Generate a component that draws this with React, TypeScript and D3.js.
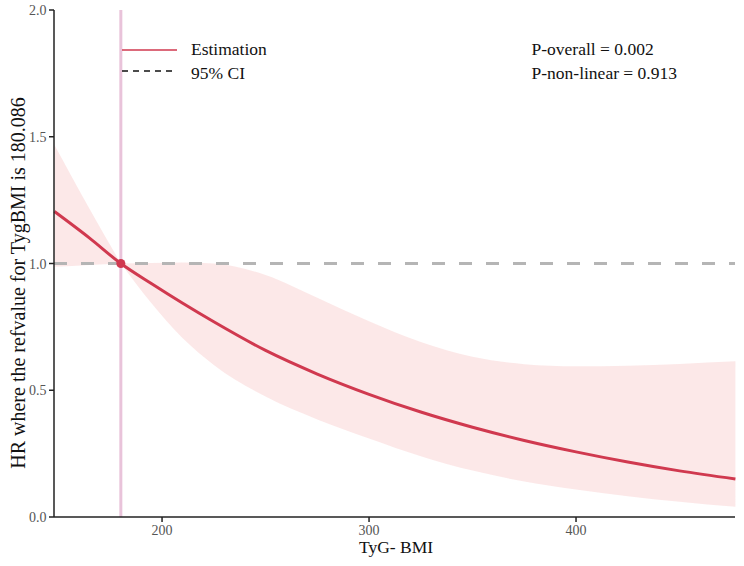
import React from "react";
import * as d3 from "d3";

const xs = [148, 165, 180.086, 195, 210, 225, 250, 275, 300, 325, 350, 375, 400, 425, 450, 477];
const estimate = [1.205, 1.1, 1.0, 0.92, 0.843, 0.77, 0.657, 0.564, 0.484, 0.414, 0.354, 0.302, 0.257, 0.217, 0.182, 0.15];
const lower = [0.987, 0.994, 1.0, 0.842, 0.705, 0.6, 0.475, 0.385, 0.31, 0.24, 0.183, 0.14, 0.108, 0.082, 0.06, 0.04];
const upper = [1.467, 1.215, 1.0, 1.002, 1.004, 1.0, 0.955, 0.865, 0.772, 0.69, 0.632, 0.603, 0.595, 0.597, 0.604, 0.614];
const xTicks = [200, 300, 400];
const yTicks = [0, 0.5, 1.0, 1.5, 2.0];
const refValue = 180.086;
const pTexts = ["P-overall = 0.002", "P-non-linear = 0.913"];
const legendItems = ["Estimation", "95% CI"];

const W = 744, H = 566;
const left = 54, right = 735, top = 10, bottom = 517;
const FONT = "'Liberation Serif', 'Times New Roman', serif";

export default function App() {
  const x = d3.scaleLinear().domain([147.8, 476.8]).range([left, right]);
  const y = d3.scaleLinear().domain([0, 2]).range([bottom, top]);
  const rows = xs.map((v, i) => ({ x: v, e: estimate[i], lo: lower[i], hi: upper[i] }));
  const refIdx = xs.indexOf(refValue);
  const area = d3.area<any>().x(d => x(d.x)).y0(d => y(d.lo)).y1(d => y(d.hi)).curve(d3.curveMonotoneX);
  const line = d3.line<any>().x(d => x(d.x)).y(d => y(d.e)).curve(d3.curveMonotoneX);
  const leftRows = rows.slice(0, refIdx + 1);
  const rightRows = rows.slice(refIdx);

  return (
    <svg width={W} height={H} style={{ position: "absolute", left: 0, top: 0, background: "#fff" }}>
      <path d={area(leftRows) || ""} fill="#fbe4e4" fillOpacity={0.85} />
      <path d={area(rightRows) || ""} fill="#fbe4e4" fillOpacity={0.85} />
      <line x1={x(refValue)} x2={x(refValue)} y1={top} y2={bottom} stroke="#e9c3da" strokeWidth={3} />
      <line x1={left} x2={right} y1={y(1)} y2={y(1)} stroke="#b5b5b5" strokeWidth={3} strokeDasharray="13,14" />
      <path d={line(rows) || ""} fill="none" stroke="#d0394f" strokeWidth={3} />
      <circle cx={x(refValue)} cy={y(1)} r={4.5} fill="#d0394f" />

      {/* axes */}
      <line x1={left} x2={left} y1={top} y2={bottom} stroke="#222" strokeWidth={1.5} />
      <line x1={left} x2={right} y1={bottom} y2={bottom} stroke="#222" strokeWidth={1.5} />
      {yTicks.map(t => (
        <g key={t}>
          <line x1={left - 5} x2={left} y1={y(t)} y2={y(t)} stroke="#222" strokeWidth={1.5} />
          <text x={left - 7.5} y={y(t) + 5} textAnchor="end" fontFamily={FONT} fontSize={14} fill="#555">{t.toFixed(1)}</text>
        </g>
      ))}
      {xTicks.map(t => (
        <g key={t}>
          <line x1={x(t)} x2={x(t)} y1={bottom} y2={bottom + 5} stroke="#222" strokeWidth={1.5} />
          <text x={x(t)} y={bottom + 18} textAnchor="middle" fontFamily={FONT} fontSize={14} fill="#555">{t}</text>
        </g>
      ))}
      <text x={396} y={553} textAnchor="middle" fontFamily={FONT} fontSize={17.5} fill="#111">TyG- BMI</text>
      <text transform={`translate(25,283) rotate(-90)`} textAnchor="middle" fontFamily={FONT} fontSize={20} fill="#111">
        HR where the refvalue for TygBMI is 180.086
      </text>

      {/* legend */}
      <line x1={122} x2={177} y1={50} y2={50} stroke="#d0394f" strokeWidth={1.5} />
      <text x={191} y={54.5} fontFamily={FONT} fontSize={17.5} fill="#111">{legendItems[0]}</text>
      <line x1={122} x2={177} y1={71} y2={71} stroke="#111" strokeWidth={1.5} strokeDasharray="6,5" />
      <text x={191} y={79} fontFamily={FONT} fontSize={17.5} fill="#111">{legendItems[1]}</text>

      <text x={531.5} y={54.5} fontFamily={FONT} fontSize={17.5} fill="#111">{pTexts[0]}</text>
      <text x={531.5} y={78.5} fontFamily={FONT} fontSize={17.5} fill="#111">{pTexts[1]}</text>
    </svg>
  );
}
